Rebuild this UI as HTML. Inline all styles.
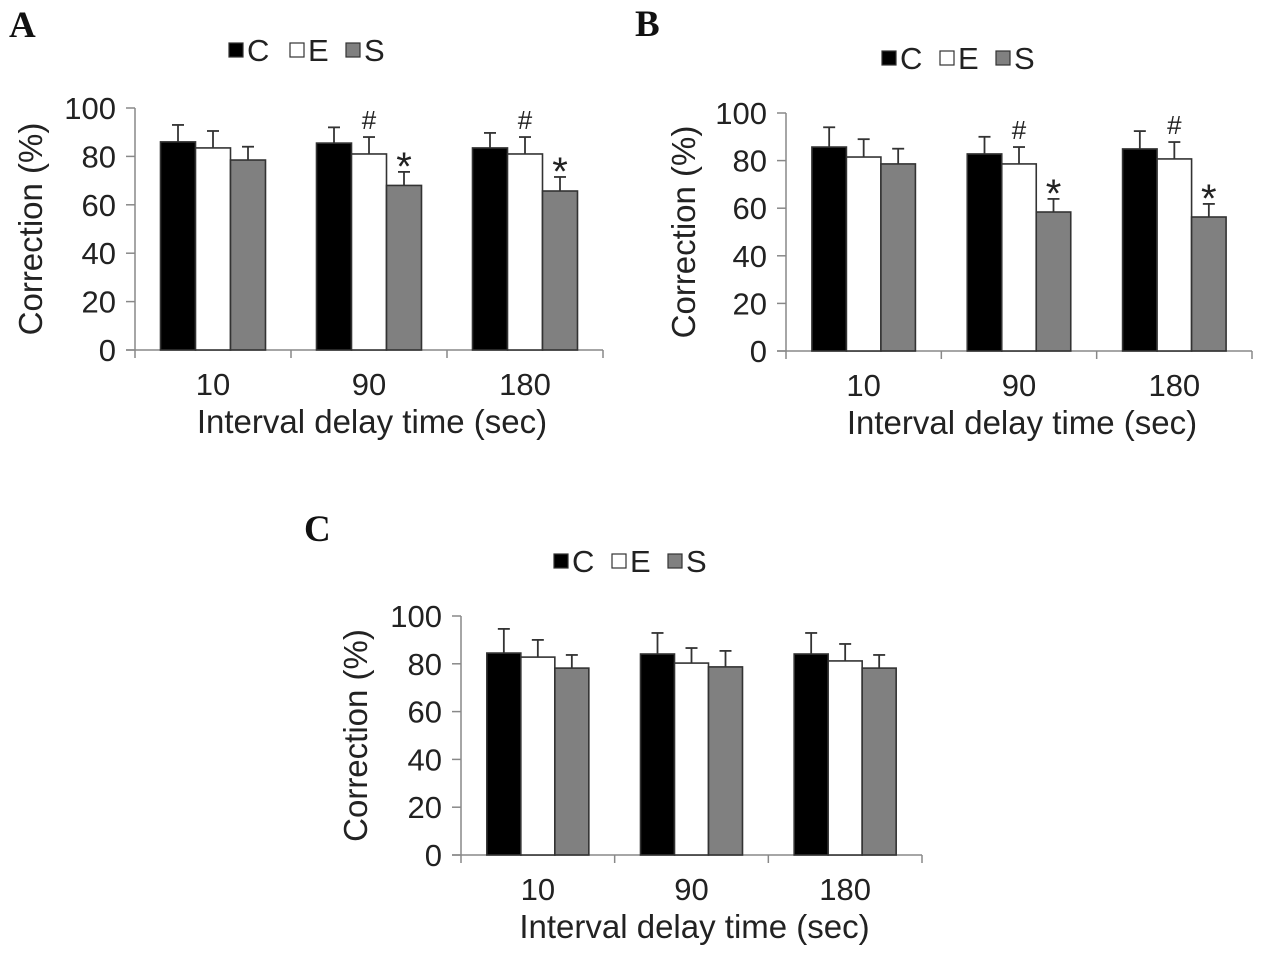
<!DOCTYPE html>
<html><head><meta charset="utf-8"><style>
body{margin:0;background:#fff;}
svg{display:block;}
text{font-family:"Liberation Sans",Arial,sans-serif;fill:#222;}
.pl{font-family:"Liberation Serif",serif;font-weight:bold;font-size:37px;fill:#111;}
</style></head><body>
<svg id="fig" width="1262" height="960" viewBox="0 0 1262 960"></svg>
<script>
const categories = ["10","90","180"];
const seriesNames = ["C","E","S"];
const tickLabels = [0,20,40,60,80,100];
const aMeans = [[86,85.5,83.5],[83.5,81,81],[78.5,68,65.7]];
const aErrs  = [[93,92,89.7],[90.5,88,88],[84,73.6,71.5]];
const aMarks = [["","",""],["","#","#"],["","*","*"]];
const bMeans = [[85.7,82.8,84.9],[81.5,78.6,80.7],[78.6,58.4,56.3]];
const bErrs  = [[94,90,92.4],[89,85.7,87.8],[85,63.9,61.8]];
const bMarks = [["","",""],["","#","#"],["","*","*"]];
const cMeans = [[84.5,84.1,84.1],[82.8,80.3,81.2],[78.2,78.7,78.2]];
const cErrs  = [[94.6,92.9,92.9],[90,86.6,88.3],[83.7,85.4,83.7]];
const cMarks = [["","",""],["","",""],["","",""]];

const svg=document.getElementById('fig');
const NS='http://www.w3.org/2000/svg';
function mk(tag,attrs,parent,txt){const e=document.createElementNS(NS,tag);for(const k in attrs)e.setAttribute(k,attrs[k]);if(txt!==undefined)e.textContent=txt;(parent||svg).appendChild(e);return e;}
const fills=["#000","#fff","#808080"];

function panel(id,L,means,errs,marks){
  const g=mk('g',{});
  
  
  const y=v=>L.y0-(v/100)*(L.y0-L.y100);
  const gw=(L.xEnd-L.ax)/categories.length;
  const bw=L.bw;
  const lt=mk('text',{x:L.lx,y:L.ly,class:'pl'},g,id);
  
  
  seriesNames.forEach((s,i)=>{
    const lx=L.legX[i];
    const r=mk('rect',{x:lx,y:L.legY-7,width:14,height:14,fill:fills[i],stroke:'#333','stroke-width':1.2},g);
    
    
    const t=mk('text',{x:lx+18,y:L.legY+11,'font-size':31},g,s);
    
    
  });
  const ya=mk('line',{x1:L.ax,y1:L.y100,x2:L.ax,y2:L.y0+8,stroke:'#888','stroke-width':1.5},g);
  
  
  const xa=mk('line',{x1:L.ax-9,y1:L.y0,x2:L.xEnd,y2:L.y0,stroke:'#888','stroke-width':1.5},g);
  
  
  tickLabels.forEach(v=>{
    mk('line',{x1:L.ax-9,y1:y(v),x2:L.ax,y2:y(v),stroke:'#888','stroke-width':1.5},g);
    const t=mk('text',{x:L.ax-19,y:y(v)+11,'font-size':31,'text-anchor':'end'},g,v);
    
    
  });
  for(let c=1;c<=categories.length;c++){
    mk('line',{x1:L.ax+gw*c,y1:L.y0,x2:L.ax+gw*c,y2:L.y0+8,stroke:'#888','stroke-width':1.5},g);
  }
  categories.forEach((cat,c)=>{
    const t=mk('text',{x:L.ax+gw*(c+0.5),y:L.y0+45,'font-size':31,'text-anchor':'middle'},g,cat);
    
    
    const x0=L.ax+gw*c+(gw-3*bw)/2;
    seriesNames.forEach((s,i)=>{
      const bx=x0+i*bw, m=means[i][c], e=errs[i][c], cx=bx+bw/2;
      const eb=mk('line',{x1:cx,y1:y(m),x2:cx,y2:y(e),stroke:'#333','stroke-width':1.8},g);
      
      
      mk('line',{x1:cx-6,y1:y(e),x2:cx+6,y2:y(e),stroke:'#333','stroke-width':1.8},g);
      const r=mk('rect',{x:bx,y:y(m),width:bw,height:L.y0-y(m),fill:fills[i],stroke:'#333','stroke-width':1.6},g);
      
      
      if(marks[i][c]){
        const star=marks[i][c]==='*';
        const mt=mk('text',{x:cx,y:y(e)-(star?-8:8),'font-size':star?40:26,'text-anchor':'middle',fill:star?'#555':'#333'},g,marks[i][c]);
        if(!star)mt.setAttribute('font-family','Liberation Serif, serif');
        
        
      }
    });
  });
  const xt=mk('text',{x:L.ax+(L.xEnd-L.ax)/2+3,y:L.y0+83,'font-size':33,'text-anchor':'middle'},g,'Interval delay time (sec)');
  
  
  const yt=mk('text',{x:0,y:0,'font-size':33,'text-anchor':'middle',transform:`translate(${L.ytx},${(L.y0+L.y100)/2}) rotate(-90)`},g,'Correction (%)');
  
  
}

panel('A',{ax:135,y100:108,y0:350,xEnd:603,bw:35,lx:9,ly:37,legX:[229,290,346],legY:50,ytx:42},aMeans,aErrs,aMarks);
panel('B',{ax:786,y100:113,y0:351,xEnd:1252,bw:34.5,lx:635,ly:36,legX:[882,940,996],legY:58,ytx:695},bMeans,bErrs,bMarks);
panel('C',{ax:461,y100:616,y0:855,xEnd:922,bw:34,lx:304,ly:541,legX:[554,612,668],legY:561,ytx:367},cMeans,cErrs,cMarks);
</script>
</body></html>
